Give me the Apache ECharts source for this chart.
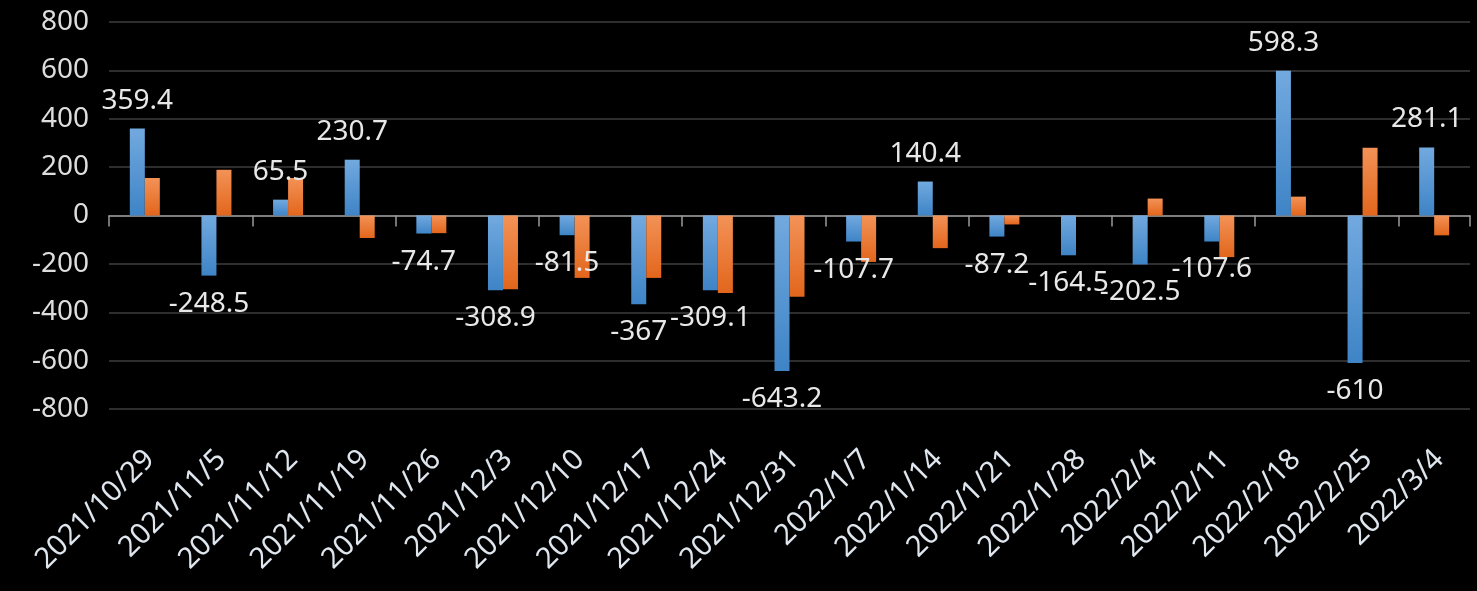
<!DOCTYPE html>
<html>
<head>
<meta charset="utf-8">
<script src="https://cdn.jsdelivr.net/npm/echarts@6/dist/echarts.min.js"></script>
<style>
html,body{margin:0;padding:0;background:#000;}
#chart{width:1477px;height:591px;}
</style>
</head>
<body>
<div id="chart"></div>
<script>
const categories = ['2021/10/29','2021/11/5','2021/11/12','2021/11/19','2021/11/26','2021/12/3','2021/12/10','2021/12/17','2021/12/24','2021/12/31','2022/1/7','2022/1/14','2022/1/21','2022/1/28','2022/2/4','2022/2/11','2022/2/18','2022/2/25','2022/3/4'];
const blueValues = [359.4,-248.5,65.5,230.7,-74.7,-308.9,-81.5,-367,-309.1,-643.2,-107.7,140.4,-87.2,-164.5,-202.5,-107.6,598.3,-610,281.1];
const orangeValues = [155,189,155,-93,-73,-305,-258,-258,-320,-336,-192,-135,-37,0,70,-172,78,280,-82];
const yTicks = {min:-800, max:800, interval:200};

const FONT = '"Noto Sans", "Open Sans", sans-serif';
const chart = echarts.init(document.getElementById('chart'), null, {renderer:'canvas'});
const blueGrad = new echarts.graphic.LinearGradient(0,0,0,1,[{offset:0,color:'#72a9df'},{offset:1,color:'#3e84c6'}]);
const orangeGrad = new echarts.graphic.LinearGradient(0,0,0,1,[{offset:0,color:'#f39257'},{offset:1,color:'#e2661c'}]);

chart.setOption({
  backgroundColor:'#000',
  animation:false,
  grid:[
    {left:109, right:7, top:22, bottom:182, containLabel:false},
    {left:114, width:1361, top:22, bottom:182, containLabel:false}
  ],
  xAxis:[
    {type:'category', gridIndex:0, data:categories, boundaryGap:true,
     axisLine:{onZero:true, lineStyle:{color:'#9a9a9a', width:1.5}},
     axisTick:{show:true, length:11, inside:false, lineStyle:{color:'#9a9a9a', width:1.5}},
     axisLabel:{show:false}, splitLine:{show:false}},
    {type:'category', gridIndex:1, data:categories, position:'bottom',
     axisLine:{show:false, onZero:false}, axisTick:{show:false}, splitLine:{show:false},
     axisLabel:{show:true, rotate:45, margin:46, interval:0, color:'#dfe6ee', fontSize:29, fontFamily:FONT}}
  ],
  yAxis:[
    {type:'value', gridIndex:0, min:yTicks.min, max:yTicks.max, interval:yTicks.interval,
     axisLine:{show:false}, axisTick:{show:false},
     axisLabel:{color:'#dddddd', fontSize:28, fontFamily:FONT, margin:20},
     splitLine:{show:true, lineStyle:{color:'#2e2e2e', width:2}}},
    {type:'value', gridIndex:1, min:yTicks.min, max:yTicks.max, interval:yTicks.interval, show:false}
  ],
  series:[
    {name:'blue', type:'bar', xAxisIndex:0, yAxisIndex:0, data:blueValues, barWidth:15, barGap:'0%',
     itemStyle:{color:blueGrad},
     label:{show:true, position:'outside', distance:14, color:'#e8e8e8', fontSize:28, fontFamily:FONT}},
    {name:'orange', type:'bar', xAxisIndex:0, yAxisIndex:0, data:orangeValues, barWidth:15, barGap:'0%',
     itemStyle:{color:orangeGrad}, label:{show:false}}
  ]
});
</script>
</body>
</html>
